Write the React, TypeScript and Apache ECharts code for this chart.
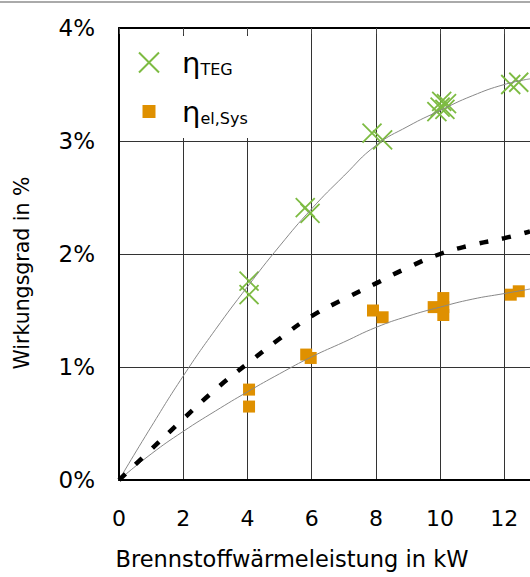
import React, { useEffect, useRef } from "react";
import * as echarts from "echarts";

const xTicks = [0, 2, 4, 6, 8, 10, 12];
const yTicks = [0, 1, 2, 3, 4];

const tegPoints = [
  [4.05, 1.76], [4.05, 1.64], [5.8, 2.41], [5.95, 2.36], [7.88, 3.07], [8.21, 3.01],
  [9.9, 3.26], [10.0, 3.3], [10.05, 3.35], [10.15, 3.28], [10.2, 3.33], [12.2, 3.5], [12.45, 3.52],
];
const sysPoints = [
  [4.05, 0.8], [4.05, 0.65], [5.83, 1.11], [5.97, 1.08], [7.91, 1.5], [8.21, 1.44],
  [9.8, 1.53], [10.1, 1.61], [10.1, 1.53], [10.1, 1.46], [12.2, 1.64], [12.45, 1.67],
];
const tegFit = [
  [0, 0], [1, 0.47], [2, 0.92], [3, 1.33], [4, 1.71], [5, 2.07], [6, 2.4], [7, 2.69],
  [8, 2.96], [9, 3.13], [10, 3.27], [11, 3.4], [12, 3.5], [12.8, 3.55],
];
const sysFit = [
  [0, 0], [1, 0.23], [2, 0.43], [3, 0.61], [4, 0.78], [5, 0.94], [6, 1.09], [7, 1.22],
  [8, 1.35], [9, 1.45], [10, 1.53], [11, 1.6], [12, 1.65], [12.8, 1.69],
];
const dashedLine = [
  [0, 0], [1, 0.27], [2, 0.54], [3, 0.8], [4, 1.03], [5, 1.25], [6, 1.45], [7, 1.6],
  [8, 1.74], [9, 1.88], [10, 2.0], [11, 2.08], [12, 2.14], [12.8, 2.2],
];

const FONT = "DejaVu Sans";
const GREEN = "#7dbb42";
const ORANGE = "#df9000";

export default function App() {
  const ref = useRef<HTMLDivElement>(null);
  useEffect(() => {
    if (!ref.current) return;
    const chart = echarts.init(ref.current, null, { renderer: "svg" });
    const xMin = xTicks[0];
    const xMax = 12.8;
    chart.setOption({
      animation: false,
      backgroundColor: "#fff",
      textStyle: { fontFamily: FONT },
      grid: { left: 119, right: 0, top: 28, bottom: 97, containLabel: false },
      graphic: [
        {
          type: "line",
          shape: { x1: 0, y1: 2, x2: 530, y2: 2 },
          style: { stroke: "#aaa", lineWidth: 2 },
        },
      ],
      legend: {
        orient: "vertical",
        left: 120,
        top: 36,
        padding: [12, 12, 12, 18],
        itemGap: 20,
        itemWidth: 20,
        itemHeight: 20,
        backgroundColor: "#fff",
        selectedMode: false,
        data: [
          { name: "TEG" },
          { name: "Sys", icon: "path://M0,0M20,20M3.5,3.5h13v13h-13z" },
        ],
        formatter: (name: string) =>
          name === "TEG" ? "{eta|η}{sub|TEG}" : "{eta|η}{sub|el,Sys}",
        textStyle: {
          fontFamily: FONT,
          color: "#000",
          rich: {
            eta: { fontSize: 29, fontFamily: FONT, color: "#000", padding: [0, 0, 0, 18] },
            sub: { fontSize: 16, fontFamily: FONT, color: "#000", verticalAlign: "bottom", padding: [8, 0, 0, 0] },
          },
        },
      },
      xAxis: [
        {
          type: "value",
          min: xMin,
          max: xMax,
          interval: 2,
          name: "Brennstoffwärmeleistung in kW",
          nameLocation: "middle",
          nameGap: 67,
          nameTextStyle: { fontSize: 22.5, fontFamily: FONT, color: "#000", padding: [0, 65, 0, 0] },
          axisLine: { show: true, lineStyle: { color: "#000", width: 2 } },
          axisTick: { show: false },
          axisLabel: {
            fontSize: 22, fontFamily: FONT, color: "#000", margin: 27,
            showMaxLabel: false,
            formatter: (v: number) => (xTicks.includes(v) ? String(v) : ""),
          },
          splitLine: { show: true, lineStyle: { color: "#333", width: 1 } },
        },
        {
          type: "value",
          position: "top",
          min: xMin,
          max: xMax,
          interval: 2,
          axisLine: { show: true, lineStyle: { color: "#000", width: 2 } },
          axisTick: { show: true, inside: true, length: 6, lineStyle: { color: "#444" } },
          axisLabel: { show: false },
          splitLine: { show: false },
        },
      ],
      yAxis: {
        type: "value",
        min: yTicks[0],
        max: yTicks[yTicks.length - 1],
        interval: 1,
        name: "Wirkungsgrad in %",
        nameLocation: "middle",
        nameGap: 87,
        nameTextStyle: { fontSize: 20.5, fontFamily: FONT, color: "#000", padding: [0, 38, 0, 0] },
        axisLine: { show: true, lineStyle: { color: "#000", width: 2 } },
        axisTick: { show: false },
        axisLabel: { fontSize: 23, fontFamily: FONT, color: "#000", margin: 24, formatter: "{value}%" },
        splitLine: { show: true, lineStyle: { color: "#333", width: 1 } },
      },
      series: [
        {
          name: "TEG",
          type: "scatter",
          data: tegPoints,
          symbol: "path://M0,0L10,10M10,0L0,10",
          symbolSize: 19,
          itemStyle: { color: "rgba(0,0,0,0)", borderColor: GREEN, borderWidth: 1.8, opacity: 1 },
          z: 2,
        },
        {
          name: "Sys",
          type: "scatter",
          data: sysPoints,
          symbol: "rect",
          symbolSize: 12,
          itemStyle: { color: ORANGE, opacity: 1 },
          z: 2,
        },
        {
          type: "line",
          data: tegFit,
          smooth: true,
          showSymbol: false,
          lineStyle: { color: "#888", width: 1 },
          z: 3,
        },
        {
          type: "line",
          data: sysFit,
          smooth: true,
          showSymbol: false,
          lineStyle: { color: "#888", width: 1 },
          z: 3,
        },
        {
          type: "line",
          data: dashedLine,
          smooth: true,
          showSymbol: false,
          lineStyle: { color: "#000", width: 4.5, type: [9, 14] },
          z: 3,
        },
      ],
    });
    return () => chart.dispose();
  }, []);
  return (
    <div
      ref={ref}
      style={{ position: "absolute", left: 0, top: 0, width: 530, height: 577 }}
    />
  );
}
